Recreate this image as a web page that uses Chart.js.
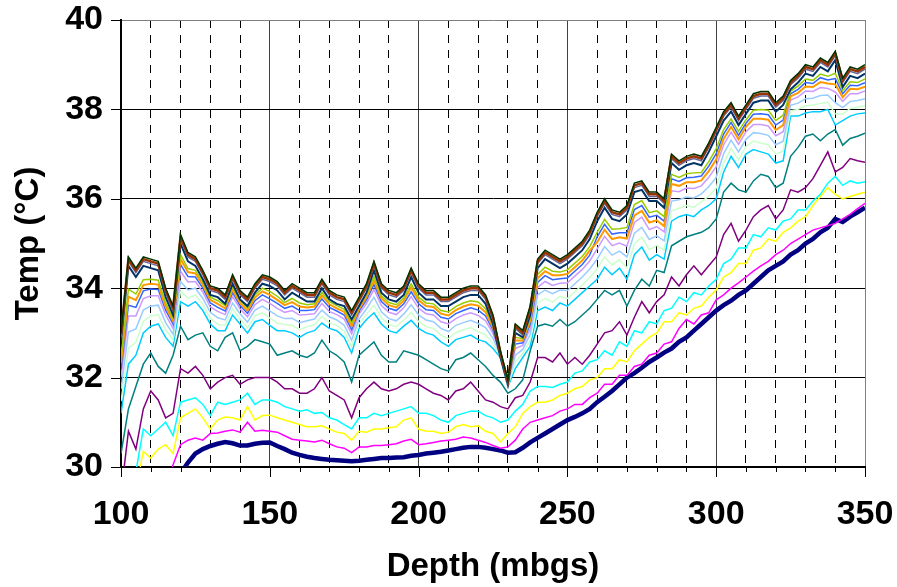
<!DOCTYPE html>
<html>
<head>
<meta charset="utf-8">
<script src="https://cdn.jsdelivr.net/npm/chart.js@4/dist/chart.umd.min.js"></script>
<style>
  html, body { margin: 0; padding: 0; background: #fff; }
  canvas { display: block; }
</style>
</head>
<body>
<canvas id="c" width="897" height="587"></canvas>
<script>
// Depth stations (mbgs)
const depth = [
  100,102.5,105,107.5,110,112.5,115,117.5,120,122.5,
  125,127.5,130,132.5,135,137.5,140,142.5,145,147.5,
  150,152.5,155,157.5,160,162.5,165,167.5,170,172.5,
  175,177.5,180,182.5,185,187.5,190,192.5,195,197.5,
  200,202.5,205,207.5,210,212.5,215,217.5,220,222.5,
  225,227.5,230,232.5,235,237.5,240,242.5,245,247.5,
  250,252.5,255,257.5,260,262.5,265,267.5,270,272.5,
  275,277.5,280,282.5,285,287.5,290,292.5,295,297.5,
  300,302.5,305,307.5,310,312.5,315,317.5,320,322.5,
  325,327.5,330,332.5,335,337.5,340,342.5,345,347.5,
  350
];

const xTickLabels = [100, 150, 200, 250, 300, 350];
const yTickLabels = [30, 32, 34, 36, 38, 40];

// Temperature profiles (°C), warmest first
const profile17 = [
  33.0,34.7,34.45,34.7,34.65,34.6,34.0,33.6,35.2,34.8,
  34.7,34.4,34.05,34.0,33.85,34.3,33.95,33.8,34.1,34.3,
  34.25,34.15,33.95,34.1,34.0,33.9,33.9,34.2,33.95,33.85,
  33.8,33.5,33.8,34.1,34.6,34.1,33.95,33.9,34.05,34.45,
  34.1,33.95,33.95,33.8,33.8,33.9,34.0,34.05,34.05,33.85,
  33.4,32.6,31.95,33.2,33.05,33.6,34.65,34.85,34.75,34.65,
  34.75,34.9,35.05,35.3,35.7,36.0,35.75,35.7,35.85,36.35,
  36.4,36.15,36.15,36.0,37.0,36.85,36.95,37.0,36.95,37.25,
  37.6,37.95,38.15,37.85,38.1,38.35,38.4,38.4,38.15,38.3,
  38.65,38.8,39.0,38.95,39.15,39.05,39.3,38.7,38.95,38.9,
  39.0
];
const profile16 = [
  32.95,34.65,34.4,34.65,34.6,34.55,33.95,33.55,35.15,34.75,
  34.65,34.35,34.0,33.95,33.8,34.25,33.9,33.75,34.05,34.25,
  34.2,34.1,33.9,34.05,33.95,33.85,33.85,34.15,33.9,33.8,
  33.75,33.45,33.75,34.05,34.55,34.05,33.9,33.85,34.0,34.4,
  34.05,33.9,33.9,33.75,33.75,33.85,33.95,34.0,34.0,33.8,
  33.35,32.55,31.92,33.15,33.0,33.55,34.6,34.8,34.7,34.6,
  34.7,34.85,35.0,35.25,35.65,35.95,35.7,35.65,35.8,36.3,
  36.35,36.1,36.1,35.95,36.95,36.8,36.9,36.95,36.9,37.2,
  37.55,37.9,38.1,37.8,38.05,38.3,38.35,38.35,38.1,38.25,
  38.6,38.75,38.95,38.9,39.1,39.0,39.25,38.65,38.9,38.85,
  38.95
];
const profile15 = [
  32.9,34.6,34.35,34.6,34.55,34.5,33.9,33.5,35.1,34.7,
  34.6,34.3,33.95,33.9,33.75,34.2,33.85,33.7,34.0,34.2,
  34.15,34.05,33.85,34.0,33.9,33.8,33.8,34.1,33.85,33.75,
  33.7,33.4,33.7,34.0,34.5,34.0,33.85,33.8,33.95,34.35,
  34.0,33.85,33.85,33.7,33.7,33.8,33.9,33.95,33.95,33.75,
  33.3,32.5,31.9,33.1,32.95,33.5,34.55,34.75,34.65,34.55,
  34.65,34.8,34.95,35.2,35.6,35.9,35.65,35.6,35.75,36.25,
  36.3,36.05,36.05,35.9,36.9,36.75,36.85,36.9,36.85,37.15,
  37.5,37.85,38.05,37.75,38.0,38.25,38.3,38.3,38.05,38.2,
  38.55,38.7,38.9,38.85,39.05,38.95,39.2,38.6,38.85,38.8,
  38.9
];
const profile14 = [
  32.8,34.5,34.25,34.5,34.45,34.4,33.8,33.4,35.0,34.6,
  34.5,34.2,33.85,33.8,33.65,34.1,33.75,33.6,33.9,34.1,
  34.05,33.95,33.75,33.9,33.8,33.7,33.7,34.0,33.75,33.65,
  33.6,33.3,33.6,33.9,34.4,33.9,33.75,33.7,33.85,34.25,
  33.9,33.75,33.75,33.6,33.6,33.7,33.8,33.85,33.85,33.65,
  33.2,32.45,31.85,33.0,32.9,33.4,34.45,34.65,34.55,34.45,
  34.55,34.7,34.85,35.1,35.5,35.8,35.55,35.5,35.65,36.15,
  36.2,35.95,35.95,35.8,36.8,36.65,36.75,36.8,36.75,37.05,
  37.4,37.75,37.95,37.65,37.9,38.15,38.2,38.2,37.95,38.1,
  38.45,38.6,38.8,38.75,38.95,38.85,39.1,38.5,38.75,38.7,
  38.8
];
const profile13 = [
  32.46,33.98,33.87,34.19,34.2,34.18,33.67,33.33,34.75,34.44,
  34.4,34.13,33.8,33.72,33.61,34.03,33.73,33.56,33.85,34.0,
  33.93,33.82,33.68,33.77,33.67,33.63,33.65,33.91,33.7,33.61,
  33.53,33.22,33.59,33.86,34.26,33.83,33.68,33.63,33.78,34.1,
  33.8,33.67,33.65,33.5,33.47,33.59,33.67,33.72,33.69,33.54,
  33.18,32.56,31.91,32.9,32.87,33.33,34.31,34.47,34.38,34.36,
  34.41,34.56,34.71,34.93,35.25,35.54,35.32,35.33,35.36,35.87,
  35.96,35.69,35.73,35.6,36.55,36.48,36.56,36.58,36.59,36.83,
  37.12,37.55,37.79,37.51,37.77,37.98,38.0,37.98,37.75,37.87,
  38.41,38.52,38.68,38.65,38.79,38.74,38.81,38.42,38.62,38.6,
  38.68
];
const profile12 = [
  32.33,33.81,33.73,34.07,34.1,34.08,33.59,33.27,34.65,34.36,
  34.33,34.07,33.74,33.65,33.55,33.97,33.67,33.5,33.79,33.93,
  33.85,33.74,33.62,33.69,33.59,33.57,33.59,33.84,33.64,33.55,
  33.47,33.15,33.54,33.8,34.17,33.77,33.62,33.57,33.72,34.02,
  33.73,33.6,33.58,33.43,33.39,33.51,33.59,33.64,33.61,33.46,
  33.12,32.54,31.89,32.83,32.83,33.27,34.22,34.38,34.29,34.29,
  34.32,34.47,34.62,34.84,35.03,35.31,35.1,35.14,35.11,35.63,
  35.73,35.47,35.52,35.39,36.33,36.29,36.37,36.37,36.41,36.62,
  36.88,37.34,37.61,37.33,37.61,37.79,37.79,37.77,37.54,37.65,
  38.29,38.37,38.51,38.5,38.61,38.58,38.56,38.27,38.46,38.45,
  38.51
];
const profile11 = [
  32.19,33.62,33.57,33.94,33.98,33.97,33.51,33.2,34.53,34.26,
  34.25,34.0,33.67,33.57,33.49,33.9,33.61,33.44,33.72,33.85,
  33.76,33.66,33.55,33.6,33.5,33.5,33.52,33.76,33.57,33.49,
  33.4,33.07,33.49,33.74,34.08,33.7,33.55,33.5,33.65,33.92,
  33.65,33.52,33.5,33.35,33.31,33.43,33.5,33.56,33.51,33.38,
  33.06,32.53,31.88,32.75,32.78,33.2,34.13,34.28,34.19,34.21,
  34.23,34.38,34.53,34.74,35.15,35.43,35.21,35.24,35.24,35.76,
  35.85,35.59,35.63,35.5,36.45,36.39,36.47,36.48,36.51,36.73,
  37.01,37.45,37.71,37.42,37.69,37.89,37.9,37.88,37.65,37.76,
  38.35,38.45,38.6,38.58,38.71,38.66,38.69,38.35,38.54,38.53,
  38.6
];
const profile10 = [
  32.01,33.38,33.38,33.77,33.83,33.83,33.4,33.1,34.38,34.14,
  34.15,33.91,33.58,33.48,33.41,33.81,33.54,33.36,33.63,33.75,
  33.66,33.55,33.46,33.5,33.4,33.41,33.43,33.66,33.48,33.41,
  33.31,32.98,33.42,33.66,33.97,33.61,33.46,33.41,33.56,33.81,
  33.55,33.43,33.4,33.25,33.2,33.32,33.4,33.45,33.39,33.27,
  32.99,32.52,31.87,32.65,32.72,33.1,34.02,34.15,34.06,34.11,
  34.12,34.27,34.42,34.61,34.88,35.16,34.95,35.01,34.94,35.47,
  35.59,35.31,35.38,35.26,36.18,36.16,36.24,36.23,36.29,36.48,
  36.72,37.21,37.49,37.22,37.5,37.66,37.66,37.63,37.41,37.5,
  38.21,38.28,38.41,38.4,38.49,38.47,38.39,38.18,38.35,38.35,
  38.41
];
const profile09 = [
  31.74,33.02,33.09,33.51,33.6,33.62,33.23,32.97,34.15,33.96,
  34.0,33.77,33.46,33.34,33.29,33.67,33.43,33.24,33.51,33.6,
  33.49,33.38,33.32,33.33,33.23,33.27,33.31,33.51,33.36,33.29,
  33.17,32.84,33.31,33.54,33.8,33.47,33.32,33.27,33.42,33.63,
  33.4,33.29,33.25,33.1,33.03,33.17,33.23,33.28,33.21,33.12,
  32.88,32.5,31.85,32.5,32.63,32.97,33.85,33.96,33.88,33.96,
  33.95,34.1,34.25,34.43,34.65,34.93,34.74,34.83,34.7,35.23,
  35.36,35.09,35.17,35.06,35.95,35.98,36.04,36.02,36.11,36.27,
  36.48,37.01,37.31,37.05,37.33,37.48,37.46,37.42,37.21,37.29,
  38.09,38.14,38.24,38.25,38.31,38.32,38.15,38.04,38.18,38.2,
  38.24
];
const profile08 = [
  31.47,32.66,32.79,33.26,33.38,33.41,33.07,32.84,33.93,33.78,
  33.85,33.64,33.33,33.19,33.17,33.54,33.31,33.12,33.38,33.45,
  33.33,33.22,33.19,33.17,33.07,33.14,33.18,33.37,33.23,33.17,
  33.04,32.69,33.21,33.42,33.62,33.34,33.19,33.14,33.29,33.46,
  33.25,33.14,33.1,32.95,32.87,33.01,33.07,33.12,33.03,32.96,
  32.76,32.47,31.82,32.35,32.54,32.84,33.67,33.77,33.69,33.82,
  33.77,33.92,34.07,34.24,34.43,34.7,34.52,34.64,34.45,34.99,
  35.14,34.86,34.96,34.85,35.73,35.79,35.85,35.81,35.93,36.06,
  36.24,36.8,37.13,36.87,37.17,37.29,37.25,37.21,37.0,37.07,
  37.97,38.0,38.08,38.1,38.13,38.16,37.9,37.89,38.02,38.05,
  38.08
];
const profile07 = [
  31.2,32.3,32.5,33.0,33.15,33.2,32.9,32.7,33.7,33.6,
  33.7,33.5,33.2,33.05,33.05,33.4,33.2,33.0,33.25,33.3,
  33.17,33.05,33.05,33.0,32.9,33.0,33.05,33.22,33.1,33.05,
  32.9,32.55,33.1,33.3,33.45,33.2,33.05,33.0,33.15,33.28,
  33.1,33.0,32.95,32.8,32.7,32.85,32.9,32.95,32.85,32.8,
  32.65,32.45,31.8,32.2,32.45,32.7,33.5,33.58,33.5,33.67,
  33.6,33.75,33.9,34.05,34.2,34.47,34.3,34.45,34.2,34.75,
  34.92,34.63,34.75,34.65,35.5,35.6,35.65,35.6,35.75,35.85,
  36.0,36.6,36.95,36.7,37.0,37.1,37.05,37.0,36.8,36.85,
  37.85,37.85,37.92,37.95,37.95,38.0,37.65,37.75,37.85,37.9,
  37.92
];
const profile06 = [
  30.3,31.3,31.8,32.3,32.55,32.25,32.1,32.5,33.15,32.85,
  32.95,33.0,32.7,32.6,32.9,33.0,32.6,32.7,32.85,32.8,
  32.75,32.5,32.55,32.6,32.5,32.45,32.55,32.84,32.6,32.5,
  32.35,31.9,32.5,32.65,32.8,32.5,32.35,32.35,32.6,32.55,
  32.5,32.4,32.3,32.2,32.15,32.4,32.45,32.55,32.4,32.25,
  32.05,31.9,31.65,31.75,31.95,32.6,33.15,33.2,33.15,33.3,
  33.15,33.25,33.4,33.55,33.75,33.95,33.85,33.95,33.6,33.95,
  34.2,34.05,34.4,34.35,34.95,35.05,35.15,35.2,35.25,35.35,
  35.55,36.15,36.35,36.2,36.15,36.4,36.55,36.5,36.25,36.35,
  36.95,37.15,37.4,37.45,37.3,37.45,37.55,37.2,37.35,37.4,
  37.47
];
const profile05 = [
  29.4,30.8,30.4,31.3,31.7,31.5,31.1,31.2,32.2,32.1,
  32.25,32.05,31.75,31.9,32.0,32.05,31.85,31.95,32.0,32.0,
  32.0,31.9,31.75,31.75,31.65,31.65,31.75,32.0,31.7,31.6,
  31.5,31.1,31.55,31.75,31.9,31.75,31.7,31.75,31.85,31.9,
  31.85,31.75,31.65,31.6,31.5,31.7,31.75,31.9,31.7,31.5,
  31.45,31.35,31.3,31.55,31.6,31.9,32.45,32.45,32.35,32.55,
  32.3,32.45,32.3,32.5,32.75,33.0,33.05,33.25,32.95,33.35,
  33.7,33.45,33.7,33.85,34.25,34.05,34.3,34.5,34.3,34.5,
  34.7,35.2,35.45,35.05,35.3,35.6,35.75,35.85,35.55,35.75,
  36.2,36.15,36.25,36.45,36.75,37.05,36.6,36.7,36.9,36.85,
  36.82
];
const profile04 = [
  29.0,29.3,29.9,30.85,30.7,30.85,31.0,30.7,31.45,31.5,
  31.55,31.4,31.15,31.45,31.4,31.45,31.5,31.65,31.4,31.5,
  31.5,31.45,31.35,31.3,31.25,31.28,31.2,31.22,31.1,31.05,
  30.95,30.85,31.1,31.1,31.2,31.15,31.2,31.25,31.3,31.35,
  31.2,31.2,31.15,31.05,31.0,31.15,31.2,31.25,31.25,31.15,
  31.1,31.0,31.05,31.25,31.4,31.7,31.8,31.8,31.78,31.85,
  31.9,32.1,32.15,32.35,32.4,32.6,32.5,32.8,32.7,33.05,
  33.0,33.25,33.2,33.5,33.55,33.8,33.7,33.9,33.85,34.05,
  34.2,34.55,34.65,34.9,34.9,35.2,35.15,35.35,35.3,35.5,
  35.55,35.75,35.75,35.95,36.1,36.35,36.5,36.3,36.4,36.35,
  36.38
];
const profile03 = [
  28.9,29.1,29.5,30.35,30.2,30.4,30.5,30.3,31.1,31.2,
  31.3,31.1,30.85,31.05,31.12,31.1,31.05,31.35,31.05,31.15,
  31.16,31.1,31.05,31.0,30.95,30.9,30.9,30.92,30.85,30.78,
  30.75,30.6,30.8,30.78,30.85,30.85,30.88,30.9,31.05,31.1,
  30.85,30.8,30.8,30.75,30.78,30.9,30.95,30.9,30.92,30.8,
  30.75,30.56,30.75,30.9,31.2,31.35,31.45,31.45,31.5,31.6,
  31.65,31.75,31.8,31.95,32.0,32.2,32.2,32.4,32.35,32.6,
  32.75,32.9,33.0,33.25,33.25,33.45,33.4,33.55,33.6,33.8,
  33.96,34.25,34.35,34.55,34.55,34.85,34.9,35.1,35.05,35.25,
  35.35,35.5,35.6,35.85,36.05,36.25,36.1,36.0,36.05,36.1,
  36.15
];
const profile02 = [
  28.5,28.7,28.9,29.1,29.3,29.5,29.6,30.05,30.5,30.6,
  30.65,30.6,30.75,30.76,30.8,30.83,30.78,31.0,30.8,30.82,
  30.8,30.78,30.7,30.62,30.6,30.58,30.56,30.6,30.52,30.45,
  30.42,30.32,30.45,30.45,30.48,30.48,30.5,30.52,30.58,30.62,
  30.5,30.52,30.55,30.58,30.6,30.62,30.67,30.65,30.6,30.55,
  30.48,30.42,30.45,30.6,30.85,31.0,31.05,31.1,31.15,31.25,
  31.3,31.4,31.4,31.55,31.65,31.85,31.85,32.05,32.05,32.25,
  32.3,32.5,32.55,32.75,32.8,33.1,33.3,33.2,33.4,33.45,
  33.74,33.85,34.0,34.12,34.25,34.38,34.5,34.6,34.75,34.85,
  35.0,35.1,35.2,35.3,35.35,35.4,35.45,35.55,35.65,35.78,
  35.9
];
const profile01 = [
  28.2,28.4,28.6,28.8,29.0,29.2,29.4,29.6,29.85,30.1,
  30.3,30.4,30.47,30.52,30.56,30.53,30.48,30.48,30.52,30.54,
  30.55,30.47,30.4,30.32,30.27,30.23,30.2,30.18,30.16,30.15,
  30.14,30.13,30.14,30.16,30.18,30.2,30.2,30.21,30.22,30.25,
  30.27,30.3,30.32,30.34,30.37,30.4,30.43,30.45,30.45,30.43,
  30.4,30.37,30.32,30.33,30.43,30.55,30.65,30.75,30.85,30.95,
  31.05,31.12,31.2,31.3,31.45,31.57,31.7,31.85,32.0,32.1,
  32.22,32.35,32.45,32.56,32.65,32.8,32.9,33.05,33.2,33.35,
  33.5,33.62,33.72,33.85,33.95,34.1,34.25,34.4,34.5,34.6,
  34.75,34.85,35.0,35.1,35.25,35.35,35.55,35.48,35.6,35.7,
  35.8
];

// Line styling, paired with the profiles in drawing order (first = front)
const series = [
  { values: profile17, color: '#003300', width: 1.5 },
  { values: profile16, color: '#993300', width: 2.5 },
  { values: profile15, color: '#666699', width: 1.5 },
  { values: profile14, color: '#003366', width: 2 },
  { values: profile13, color: '#99CC00', width: 1.5 },
  { values: profile12, color: '#FF9900', width: 2 },
  { values: profile11, color: '#3366FF', width: 1.5 },
  { values: profile10, color: '#CC99FF', width: 1.5 },
  { values: profile09, color: '#99CCFF', width: 1.5 },
  { values: profile08, color: '#CCFFCC', width: 1.5 },
  { values: profile07, color: '#00CCFF', width: 1.5 },
  { values: profile06, color: '#008080', width: 1.5 },
  { values: profile05, color: '#800080', width: 1.5 },
  { values: profile04, color: '#00FFFF', width: 1.5 },
  { values: profile03, color: '#FFFF00', width: 1.5 },
  { values: profile02, color: '#FF00FF', width: 1.5 },
  { values: profile01, color: '#000080', width: 4.5 }
];

const datasets = series.map(s => ({
  data: depth.map((d, i) => ({ x: d, y: s.values[i] })),
  borderColor: s.color,
  borderWidth: s.width,
  pointRadius: 0,
  tension: 0,
  fill: false,
  clip: 0
}));

// Outward tick marks: long at labelled depths, short at every 10 m
const tickMarks = {
  id: 'tickMarks',
  afterDraw(chart) {
    const { ctx, chartArea } = chart;
    const xs = chart.scales.x, ys = chart.scales.y;
    ctx.save();
    ctx.strokeStyle = '#000';
    ctx.lineWidth = 1;
    ctx.beginPath();
    xs.ticks.forEach(t => {
      const px = Math.round(xs.getPixelForValue(t.value)) + 0.5;
      const len = xTickLabels.includes(t.value) ? 10 : 5;
      ctx.moveTo(px, chartArea.bottom);
      ctx.lineTo(px, chartArea.bottom + len);
    });
    ys.ticks.forEach(t => {
      const py = Math.round(ys.getPixelForValue(t.value)) + 0.5;
      ctx.moveTo(chartArea.left - 10, py);
      ctx.lineTo(chartArea.left, py);
    });
    ctx.stroke();
    ctx.restore();
  }
};

const family = '"Liberation Sans", Arial, sans-serif';
const tickFont = { family, weight: 'bold', size: 34, lineHeight: 1.2 };
const titleFont = { family, weight: 'bold', size: 33, lineHeight: 1.2 };

new Chart(document.getElementById('c'), {
  type: 'line',
  data: { datasets },
  options: {
    responsive: false,
    animation: false,
    devicePixelRatio: 1,
    layout: { padding: { top: 20, right: 32, left: 0, bottom: 0 } },
    plugins: { legend: { display: false }, tooltip: { enabled: false } },
    scales: {
      x: {
        type: 'linear',
        min: 100,
        max: 350,
        afterFit: s => {
          s.height = 120;
          s.paddingLeft = 0;
          s.paddingRight = 0;
        },
        ticks: {
          stepSize: 10,
          autoSkip: false,
          maxRotation: 0,
          padding: 27,
          color: '#000',
          font: tickFont,
          callback: v => xTickLabels.includes(v) ? String(v) : ''
        },
        grid: {
          drawTicks: false,
          lineWidth: 1,
          color: c => {
            const v = c.tick ? c.tick.value : 0;
            if (v === 350) return '#808080';
            return xTickLabels.includes(v) ? '#404040' : '#000';
          }
        },
        border: {
          display: true,
          color: '#000',
          width: 2,
          dash: c => (c.tick && !xTickLabels.includes(c.tick.value)) ? [8, 7] : []
        },
        title: { display: true, text: 'Depth (mbgs)', color: '#000', font: titleFont, padding: { top: 0, bottom: 0 } }
      },
      y: {
        type: 'linear',
        min: 30,
        max: 40,
        afterFit: s => {
          s.width = 121;
          s.paddingTop = 0;
          s.paddingBottom = 0;
        },
        ticks: {
          stepSize: 2,
          padding: 18,
          color: '#000',
          font: tickFont,
          callback: v => yTickLabels.includes(v) ? String(v) : ''
        },
        grid: {
          drawTicks: false,
          lineWidth: 1,
          color: c => (c.tick && c.tick.value === 40) ? '#808080' : '#000'
        },
        border: { display: true, color: '#000', width: 2 },
        title: { display: true, text: 'Temp (°C)', color: '#000', font: titleFont, padding: { top: 9, bottom: 0 } }
      }
    }
  },
  plugins: [tickMarks]
});
</script>
</body>
</html>
